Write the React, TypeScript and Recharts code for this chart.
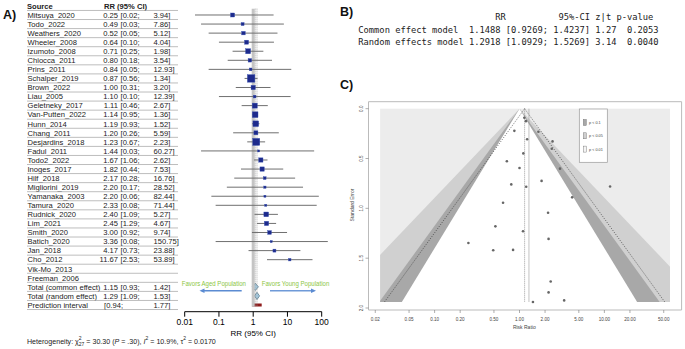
import React from 'react';
import { ScatterChart, Scatter, XAxis, YAxis, ErrorBar, ReferenceLine, ReferenceArea } from 'recharts';

// ---- panel A: forest plot data ----
const studyNames = ['Mitsuya_2020', 'Todo_2022', 'Weathers_2020', 'Wheeler_2008', 'Izumoto_2008', 'Chiocca_2011', 'Prins_2011', 'Schalper_2019', 'Brown_2022', 'Liau_2005', 'Geletneky_2017', 'Van-Putten_2022', 'Hunn_2014', 'Chang_2011', 'Desjardins_2018', 'Fadul_2011', 'Todo2_2022', 'Inoges_2017', 'Hilf_2018', 'Migliorini_2019', 'Yamanaka_2003', 'Tamura_2020', 'Rudnick_2020', 'Lim_2021', 'Smith_2020', 'Batich_2020', 'Jan_2018', 'Cho_2012'];
const studyRR = [0.25, 0.49, 0.52, 0.64, 0.71, 0.80, 0.84, 0.87, 1.00, 1.10, 1.11, 1.14, 1.19, 1.20, 1.23, 1.44, 1.67, 1.82, 2.17, 2.20, 2.20, 2.33, 2.40, 2.45, 3.00, 3.36, 4.17, 11.67];
const studyLower = [0.02, 0.03, 0.05, 0.10, 0.25, 0.18, 0.05, 0.56, 0.31, 0.10, 0.46, 0.95, 0.93, 0.26, 0.67, 0.03, 1.06, 0.44, 0.28, 0.17, 0.06, 0.08, 1.09, 1.29, 0.92, 0.08, 0.73, 2.53];
const studyUpper = [3.94, 7.86, 5.12, 4.04, 1.98, 3.54, 12.93, 1.34, 3.20, 12.39, 2.67, 1.36, 1.52, 5.59, 2.23, 60.27, 2.62, 7.53, 16.76, 28.52, 82.44, 71.44, 5.27, 4.67, 9.74, 150.75, 23.88, 53.89];
const studyWeight = [3.4, 1.9, 2.6, 3.4, 5.3, 2.6, 1.6, 11.9, 3.9, 1.6, 5.3, 6.9, 6.9, 3.4, 10.4, 0.9, 3.9, 3.9, 1.6, 1.1, 0.9, 0.9, 4.7, 3.9, 2.9, 0.9, 1.9, 1.3];
const emptyStudies = ['Vik-Mo_2013', 'Freeman_2006'];
const pooledNames = ['Total (common effect)', 'Total (random effect)'];
const pooledRR = [1.15, 1.29];
const pooledLower = [0.93, 1.09];
const pooledUpper = [1.42, 1.53];
const predictionInterval = [0.94, 1.77];
const forestTicks = [0.01, 0.1, 1, 10, 100];

// ---- panel B: model summary ----
const modelNames = ['Common effect model', 'Random effects model'];
const modelRR = ['1.1488', '1.2918'];
const modelLo = ['0.9269', '1.0929'];
const modelHi = ['1.4237', '1.5269'];
const modelZ = ['1.27', '3.14'];
const modelP = ['0.2053', '0.0040'];

// ---- panel C: funnel plot ----
const commonRR = 1.1488;
const randomRR = 1.2918;
const funnelXlim = [0.0228, 59.3];
const funnelBox = [0.01664, 81.2];
const funnelYDomain = [-0.07, 2.02];
const funnelTicksX = [0.02, 0.05, 0.1, 0.2, 0.5, 1, 2, 5, 10, 20, 50];
const funnelTicksY = [0, 0.5, 1, 1.5, 2];
const contourZ = [2.576, 1.96, 1.645];
const contourFill = ['#d0d0d0', '#a8a8a8', '#ffffff'];
const contourLabels = ['p < 0.1', 'p < 0.05', 'p < 0.01'];
const legendFill = ['#a8a8a8', '#cfcfcf', '#f4f4f4'];

const fmt = (v: number) => v.toFixed(2);

type TRow = { name: string; est?: string; lo?: string; hi?: string; header?: boolean };
const tableRows: TRow[] = [
  { name: 'Source', header: true },
  ...studyNames.map((n, i) => ({ name: n, est: fmt(studyRR[i]), lo: fmt(studyLower[i]), hi: fmt(studyUpper[i]) })),
  ...emptyStudies.map((n) => ({ name: n })),
  ...pooledNames.map((n, i) => ({ name: n, est: fmt(pooledRR[i]), lo: fmt(pooledLower[i]), hi: fmt(pooledUpper[i]) })),
  { name: 'Prediction interval', lo: fmt(predictionInterval[0]), hi: fmt(predictionInterval[1]) },
];
const rowTicks = tableRows.map((_, i) => i);

const studyRows = studyNames.map((n, i) => ({
  name: n,
  row: i + 1,
  rr: studyRR[i],
  err: [studyRR[i] - studyLower[i], studyUpper[i] - studyRR[i]],
  w: studyWeight[i],
}));
const pooledRow0 = studyNames.length + emptyStudies.length + 1;
const predRow = pooledRow0 + pooledNames.length;

const funnelPoints = studyRR.map((v, i) => ({ rr: v, se: Math.log(studyUpper[i] / studyLower[i]) / (2 * 1.96) }));
const seMax = Math.max(...funnelPoints.map((p) => p.se));

// R console style lines for panel B
const summaryHeader = ' '.repeat(26) + 'RR' + ' '.repeat(10) + '95%-CI z|t p-value';
const summaryLines = modelNames.map(
  (n, i) => `${n.padEnd(20)} ${modelRR[i]} [${modelLo[i]}; ${modelHi[i]}] ${modelZ[i]}  ${modelP[i]}`
);

const txt = '#222';
const tableFont = 7.6;

const TableTick = ({ y, payload }: any) => {
  const r = tableRows[payload.value];
  if (!r) return null;
  const line = <line x1={27} x2={178} y1={y + 4.53} y2={y + 4.53} stroke="#a0a0a0" strokeWidth={0.7} />;
  if (r.header) {
    return (
      <g fontSize={tableFont} fontWeight="bold" fill={txt}>
        <text x={27} y={y} dy={2.8}>{r.name}</text>
        <text x={104} y={y} dy={2.8}>RR (95% CI)</text>
        {line}
      </g>
    );
  }
  return (
    <g fontSize={tableFont} fill={txt}>
      <text x={27.5} y={y} dy={2.8}>{r.name}</text>
      {r.est && <text x={118} y={y} dy={2.8} textAnchor="end">{r.est}</text>}
      {r.lo && <text x={r.est ? 120.5 : 104} y={y} dy={2.8}>[{r.lo};</text>}
      {r.hi && <text x={153.5} y={y} dy={2.8}>{r.hi}]</text>}
      {line}
    </g>
  );
};

const Square = (p: any) => {
  const s = 2.17 * Math.sqrt(p.payload.w);
  return <rect x={p.cx - s / 2} y={p.cy - s / 2} width={s} height={s} fill="#1d2a8c" stroke="#3650b0" strokeWidth={0.4} />;
};

const Diamond = (p: any) => {
  const { x, y, width, height } = p;
  return (
    <polygon
      points={`${x},${y + height / 2} ${x + width / 2},${y} ${x + width},${y + height / 2} ${x + width / 2},${y + height}`}
      fill="#a9d1e8"
      stroke="#5a7a8c"
      strokeWidth={0.8}
    />
  );
};

// light-gray p<0.01 field; also defines the clip for the contour bands
const xlimClipId = 'funnel-xlim-clip';
const XlimField = (p: any) => (
  <g>
    <defs>
      <clipPath id={xlimClipId}>
        <rect x={p.x} y={p.y} width={p.width} height={p.height} />
      </clipPath>
    </defs>
    <rect x={p.x} y={p.y} width={p.width} height={p.height} fill="#ececec" />
  </g>
);

const triangle = (fill: string) => (p: any) => (
  <polygon
    points={`${p.x + p.width / 2},${p.y} ${p.x},${p.y + p.height} ${p.x + p.width},${p.y + p.height}`}
    fill={fill}
    clipPath={`url(#${xlimClipId})`}
  />
);

const FunnelYTick = ({ x, y, payload }: any) => (
  <text x={x} y={y} transform={`rotate(-90, ${x}, ${y})`} textAnchor="middle" fontSize={4.6} fill="#444">
    {Number(payload.value).toFixed(1)}
  </text>
);

const FunnelXTick = ({ x, y, payload }: any) => (
  <text x={x} y={y} dy={3.6} textAnchor="middle" fontSize={4.6} fill="#444">
    {Number(payload.value).toFixed(2)}
  </text>
);

export default function App() {
  return (
    <div style={{ position: 'absolute', left: 0, top: 0, width: 685, height: 349, background: '#fff', fontFamily: '"Liberation Sans", Arial, sans-serif', overflow: 'hidden' }}>
      {/* A) forest plot */}
      <div style={{ position: 'absolute', left: 0, top: 0 }}>
        <ScatterChart width={340} height={349} margin={{ top: 0, right: 18.3, bottom: 7.3, left: 0 }}>
          <XAxis
            type="number"
            dataKey="rr"
            scale="log"
            domain={[0.01, 100]}
            allowDataOverflow
            ticks={forestTicks}
            interval={0}
            tickFormatter={(v: number) => String(v)}
            tick={{ fontSize: 8.5, fill: '#000' }}
            tickSize={5}
            stroke="#000"
            height={30}
            label={{ value: 'RR (95% CI)', position: 'insideBottom', offset: 6, fontSize: 8, fill: '#000' }}
          />
          <YAxis
            type="number"
            dataKey="row"
            domain={[-0.655, 33.74]}
            reversed
            allowDataOverflow
            ticks={rowTicks}
            interval={0}
            tick={(p: any) => <TableTick {...p} />}
            tickLine={false}
            axisLine={false}
            width={184.7}
          />
          <ReferenceLine segment={[{ x: 1, y: 0.3 }, { x: 1, y: 33.2 }]} stroke="#c4c4c4" strokeWidth={3} />
          <ReferenceLine segment={[{ x: pooledRR[0], y: 0.3 }, { x: pooledRR[0], y: 33.2 }]} stroke="#999" strokeWidth={0.8} strokeDasharray="1 1" />
          <ReferenceLine segment={[{ x: pooledRR[1], y: 0.3 }, { x: pooledRR[1], y: 33.2 }]} stroke="#999" strokeWidth={0.8} strokeDasharray="1 1" />
          {pooledNames.map((n, i) => (
            <ReferenceArea key={n} x1={pooledLower[i]} x2={pooledUpper[i]} y1={pooledRow0 + i - 0.4} y2={pooledRow0 + i + 0.4} shape={Diamond} />
          ))}
          <ReferenceArea x1={predictionInterval[0]} x2={predictionInterval[1]} y1={predRow - 0.17} y2={predRow + 0.17} fill="#8e1b1b" fillOpacity={1} stroke="none" />
          <Scatter data={studyRows} shape={Square} isAnimationActive={false}>
            <ErrorBar dataKey="err" direction="x" width={0} stroke="#707070" strokeWidth={1} isAnimationActive={false} />
          </Scatter>
        </ScatterChart>
      </div>

      {/* C) funnel plot */}
      <div style={{ position: 'absolute', left: 330, top: 90 }}>
        <ScatterChart width={355} height={259} margin={{ top: 11.7, right: 3.4, bottom: 14, left: 10.5 }}>
          <XAxis
            type="number"
            dataKey="rr"
            scale="log"
            domain={funnelBox}
            allowDataOverflow
            ticks={funnelTicksX}
            interval={0}
            axisLine={false}
            tickSize={3}
            tickMargin={4}
            tickLine={{ stroke: '#777', strokeWidth: 0.6 }}
            tick={(p: any) => <FunnelXTick {...p} />}
            height={25}
          />
          <YAxis
            type="number"
            dataKey="se"
            domain={funnelYDomain}
            reversed
            allowDataOverflow
            ticks={funnelTicksY}
            interval={0}
            axisLine={false}
            tickSize={3}
            tickMargin={2}
            tickLine={{ stroke: '#777', strokeWidth: 0.6 }}
            tick={(p: any) => <FunnelYTick {...p} />}
            width={28}
          />
          <ReferenceArea x1={funnelXlim[0]} x2={funnelXlim[1]} y1={0} y2={seMax} shape={XlimField} />
          {contourZ.map((z, i) => (
            <ReferenceArea key={z} x1={Math.exp(-z * seMax)} x2={Math.exp(z * seMax)} y1={0} y2={seMax} ifOverflow="visible" shape={triangle(contourFill[i])} />
          ))}
          <ReferenceArea x1={funnelBox[0]} x2={funnelBox[1]} y1={funnelYDomain[0]} y2={funnelYDomain[1]} fill="none" stroke="#bbb" strokeWidth={1} />
          <ReferenceLine segment={[{ x: commonRR, y: 0 }, { x: commonRR * Math.exp(1.96 * seMax), y: seMax }]} stroke="#333" strokeWidth={0.7} strokeDasharray="1 1.5" ifOverflow="hidden" />
          <ReferenceLine segment={[{ x: commonRR, y: 0 }, { x: commonRR * Math.exp(-1.96 * seMax), y: seMax }]} stroke="#333" strokeWidth={0.7} strokeDasharray="1 1.5" ifOverflow="hidden" />
          <ReferenceLine segment={[{ x: commonRR, y: 0 }, { x: commonRR, y: seMax }]} stroke="#888" strokeWidth={0.8} strokeDasharray="1 1" />
          <ReferenceLine segment={[{ x: randomRR, y: 0 }, { x: randomRR, y: seMax }]} stroke="#999" strokeWidth={0.6} />
          <Scatter data={funnelPoints} fill="#666" isAnimationActive={false} shape={(p: any) => <circle cx={p.cx} cy={p.cy} r={1.3} fill="#666" />} />
        </ScatterChart>
      </div>

      {/* annotations */}
      <svg width={685} height={349} style={{ position: 'absolute', left: 0, top: 0, pointerEvents: 'none' }}>
        <g fontWeight="bold" fontSize={12.5} fill="#111">
          <text x={3} y={19}>A)</text>
          <text x={340} y={15.5}>B)</text>
          <text x={340} y={88.5}>C)</text>
        </g>

        {/* favors */}
        <text x={181.7} y={285.8} fontSize={7} fill="#8cc63f" textLength={64.3} lengthAdjust="spacingAndGlyphs">Favors Aged Population</text>
        <text x={261.7} y={285.8} fontSize={7} fill="#8cc63f" textLength={67.6} lengthAdjust="spacingAndGlyphs">Favors Young Population</text>
        <line x1={241.7} x2={203} y1={290.7} y2={290.7} stroke="#5b8bd2" strokeWidth={1.4} />
        <polygon points="199.5,290.7 204.5,288.4 204.5,293" fill="#5b8bd2" />
        <line x1={270} x2={312} y1={290.7} y2={290.7} stroke="#6f9ad8" strokeWidth={1.4} />
        <polygon points="316,290.7 311,288.4 311,293" fill="#5b8bd2" />

        {/* heterogeneity */}
        <text x={27} y={343.5} fontSize={7.1} fill={txt}>
          {'Heterogeneity: χ'}
          <tspan fontSize={5} dy={-3.3}>2</tspan>
          <tspan fontSize={5} dx={-2.8} dy={5.3}>27</tspan>
          <tspan dy={-2}>{' = 30.30 ('}</tspan>
          <tspan fontStyle="italic">P</tspan>
          <tspan>{' = .30), '}</tspan>
          <tspan fontStyle="italic">I</tspan>
          <tspan fontSize={5} dy={-3.3}>2</tspan>
          <tspan dy={3.3}>{' = 10.9%, τ'}</tspan>
          <tspan fontSize={5} dy={-3.3}>2</tspan>
          <tspan dy={3.3}>{' = 0.0170'}</tspan>
        </text>

        {/* B) model summary */}
        <g fontFamily='"DejaVu Sans Mono", monospace' fontSize={8.75} fill="#222" style={{ whiteSpace: 'pre' }}>
          <text x={358.3} y={20} xmlSpace="preserve">{summaryHeader}</text>
          {summaryLines.map((l, i) => (
            <text key={i} x={358.3} y={33 + i * 11.8} xmlSpace="preserve">{l}</text>
          ))}
        </g>

        {/* C) axis titles and legend */}
        <text x={353.5} y={205} transform="rotate(-90, 353.5, 205)" textAnchor="middle" fontSize={5} fill="#444">Standard Error</text>
        <text x={524.3} y={328.5} textAnchor="middle" fontSize={5} fill="#444">Risk Ratio</text>
        <rect x={579.3} y={109} width={28} height={53.3} fill="#fff" stroke="#999" strokeWidth={0.7} />
        {contourLabels.map((l, i) => (
          <g key={l}>
            <rect x={583.3} y={119.5 + i * 13.3} width={3} height={6} fill={legendFill[i]} stroke="#666" strokeWidth={0.4} />
            <text x={589} y={124 + i * 13.3} fontSize={3.8} fill="#444">{l}</text>
          </g>
        ))}
      </svg>
    </div>
  );
}
